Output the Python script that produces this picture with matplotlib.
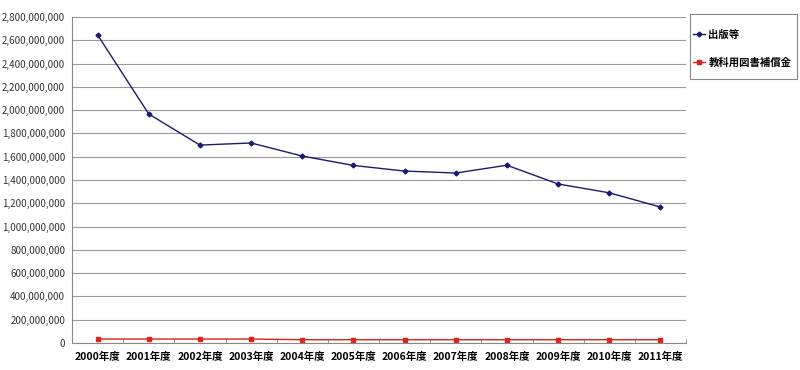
import numpy as np
import matplotlib.pyplot as plt
from matplotlib.patches import Rectangle
from matplotlib.ticker import FuncFormatter

plt.rcParams['font.family'] = ['Noto Sans CJK JP', 'DejaVu Sans']

years = ['2000年度', '2001年度', '2002年度', '2003年度', '2004年度', '2005年度',
         '2006年度', '2007年度', '2008年度', '2009年度', '2010年度', '2011年度']
publishing = [2646e6, 1967e6, 1700e6, 1718e6, 1606e6, 1525e6,
              1477e6, 1460e6, 1527e6, 1366e6, 1290e6, 1168e6]
textbook = [34e6, 34e6, 34e6, 34e6, 28e6, 28e6,
            28e6, 28e6, 28e6, 28e6, 28e6, 28e6]

fig = plt.figure(figsize=(8, 3.7), dpi=100)
ax = fig.add_axes([0.09, 0.073, 0.7675, 0.881])

x = np.arange(len(years))
ax.plot(x, publishing, color='#1a1a6e', lw=1, marker='D', ms=2.5, label='出版等')
ax.plot(x, textbook, color='#e0201a', lw=1, marker='s', ms=2.5, label='教科用図書補償金')

ax.set_xlim(-0.5, len(years) - 0.5)
ax.set_ylim(0, 2.8e9)
ax.set_yticks(np.arange(0, 2.81e9, 2e8))
ax.yaxis.set_major_formatter(FuncFormatter(lambda v, p: f'{int(v):,}'))
ax.yaxis.grid(True, color='#999999', lw=0.8)
ax.set_axisbelow(True)

ax.set_xticks(x)
ax.set_xticklabels(years, fontsize=7.5, fontweight='bold')
ax.set_xticks(np.arange(-0.5, len(years), 1), minor=True)
ax.tick_params(axis='x', which='major', length=0, pad=6)
ax.tick_params(axis='x', which='minor', length=3, color='#888888', direction='in')
ax.tick_params(axis='y', labelsize=7, length=0, pad=5, colors='#333333')

for s in ['top', 'right']:
    ax.spines[s].set_visible(False)
ax.spines['left'].set_color('#888888')
ax.spines['bottom'].set_color('#888888')

# legend box drawn separately so the padding can match
fig.patches.append(Rectangle((0.8625, 0.7865), 0.134, 0.1757, transform=fig.transFigure,
                             fill=False, edgecolor='#888888', lw=0.8))
leg = fig.legend(loc='upper left', bbox_to_anchor=(0.866, 0.92), frameon=False,
                 labelspacing=1.75, handlelength=1.2, handletextpad=0.3,
                 borderpad=0, borderaxespad=0, prop={'size': 7.5, 'weight': 'bold'})

fig.savefig('out.png', dpi=100)
